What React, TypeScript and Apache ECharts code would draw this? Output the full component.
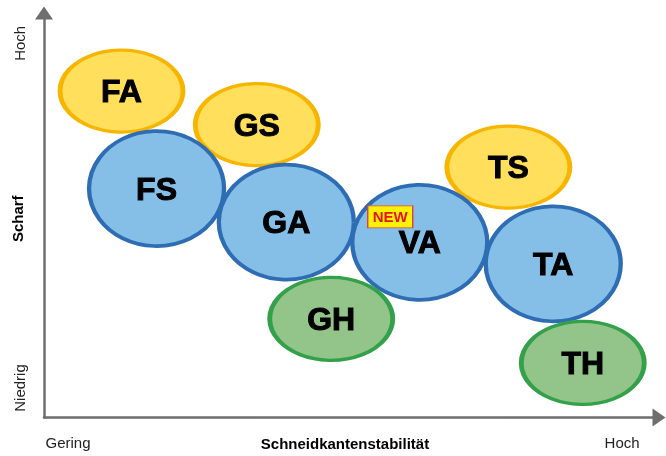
import React, { useEffect, useRef } from "react";
import * as echarts from "echarts";

// Positions on a 0–10 scale (x: Schneidkantenstabilität, y: Schärfe)
const yellowNames = ["FA", "GS", "TS"];
const yellowX = [1.26, 3.46, 7.55];
const yellowY = [8.07, 7.24, 6.19];

const blueNames = ["FS", "GA", "VA", "TA"];
const blueX = [1.83, 3.94, 6.11, 8.28];
const blueY = [5.66, 4.83, 4.33, 3.80];

const greenNames = ["GH", "TH"];
const greenX = [4.67, 8.76];
const greenY = [2.44, 1.35];

const badgeText = ["NEW"];
const badgeX = [5.63];
const badgeY = [4.96];

const xTickValues = [0.39, 9.4];
const xTickLabels = ["Gering", "Hoch"];
const yTickValues = [0.73, 9.25];
const yTickLabels = ["Niedrig", "Hoch"];

const toData = (names: string[], xs: number[], ys: number[]) =>
  names.map((n, i) => ({ name: n, value: [xs[i], ys[i]] }));

const FONT = "Liberation Sans, Arial, sans-serif";

const labelStyle = {
  show: true,
  position: "inside" as const,
  formatter: "{b}",
  color: "#000",
  fontFamily: FONT,
  fontWeight: 900 as const,
  fontSize: 32,
  textBorderColor: "#000",
  textBorderWidth: 1,
};

export default function App() {
  const ref = useRef<HTMLDivElement>(null);
  useEffect(() => {
    if (!ref.current) return;
    const chart = echarts.init(ref.current, undefined, { renderer: "svg" });
    const axisLineStyle = { color: "#6e6e6e", width: 2.5 };
    chart.setOption({
      animation: false,
      grid: { left: 44, right: 7, top: 13, bottom: 38.5, containLabel: false, outerBoundsMode: "none" },
      xAxis: {
        type: "value",
        min: 0,
        max: 10,
        splitLine: { show: false },
        axisTick: { show: false },
        axisLine: {
          show: true,
          onZero: false,
          lineStyle: axisLineStyle,
          symbol: ["none", "triangle"],
          symbolSize: [18, 13],
        },
        axisLabel: {
          customValues: xTickValues,
          formatter: (v: number) => xTickLabels[xTickValues.indexOf(v)] ?? "",
          margin: 17,
          fontSize: 15,
          color: "#222",
          fontFamily: FONT,
        },
        name: "Schneidkantenstabilität",
        nameLocation: "middle",
        nameGap: 18,
        nameMoveOverlap: false,
        nameTextStyle: {
          fontSize: 15,
          fontWeight: "bold",
          color: "#000",
          fontFamily: FONT,
          padding: [0, 13, 0, 0],
          verticalAlign: "top",
        },
      },
      yAxis: {
        type: "value",
        min: 0,
        max: 10,
        splitLine: { show: false },
        axisTick: { show: false },
        axisLine: {
          show: true,
          onZero: false,
          lineStyle: axisLineStyle,
          symbol: ["none", "triangle"],
          symbolSize: [18, 13],
        },
        axisLabel: {
          customValues: yTickValues,
          formatter: (v: number) => yTickLabels[yTickValues.indexOf(v)] ?? "",
          rotate: 90,
          margin: 17,
          fontSize: 15,
          color: "#222",
          fontFamily: FONT,
        },
        name: "Scharf",
        nameLocation: "middle",
        nameRotate: 90,
        nameGap: 19,
        nameMoveOverlap: false,
        nameTextStyle: {
          fontSize: 15,
          fontWeight: "bold",
          color: "#000",
          fontFamily: FONT,
          padding: [0, 7, 0, 0],
        },
      },
      series: [
        {
          type: "scatter",
          symbol: "circle",
          symbolSize: [123, 82],
          itemStyle: { color: "#FFDF5B", borderColor: "#F7B500", borderWidth: 4, opacity: 1 },
          label: labelStyle,
          data: toData(yellowNames, yellowX, yellowY),
        },
        {
          type: "scatter",
          symbol: "circle",
          symbolSize: [135, 115],
          itemStyle: { color: "#85BFE8", borderColor: "#2E6DB3", borderWidth: 4, opacity: 1 },
          label: labelStyle,
          data: toData(blueNames, blueX, blueY),
        },
        {
          type: "scatter",
          symbol: "circle",
          symbolSize: [123, 83],
          itemStyle: { color: "#93C48A", borderColor: "#33A04A", borderWidth: 4, opacity: 1 },
          label: labelStyle,
          data: toData(greenNames, greenX, greenY),
        },
        {
          type: "scatter",
          symbol: "rect",
          symbolSize: [45, 22],
          itemStyle: { color: "#FFF200", borderColor: "#E0404A", borderWidth: 1, opacity: 1 },
          label: {
            show: true,
            position: "inside",
            formatter: "{b}",
            color: "#E8131B",
            fontFamily: FONT,
            fontWeight: "bold",
            fontSize: 15,
          },
          data: toData(badgeText, badgeX, badgeY),
        },
      ],
    });
    return () => chart.dispose();
  }, []);
  return <div ref={ref} style={{ width: 666, height: 456, position: "fixed", left: 0, top: 0 }} />;
}
